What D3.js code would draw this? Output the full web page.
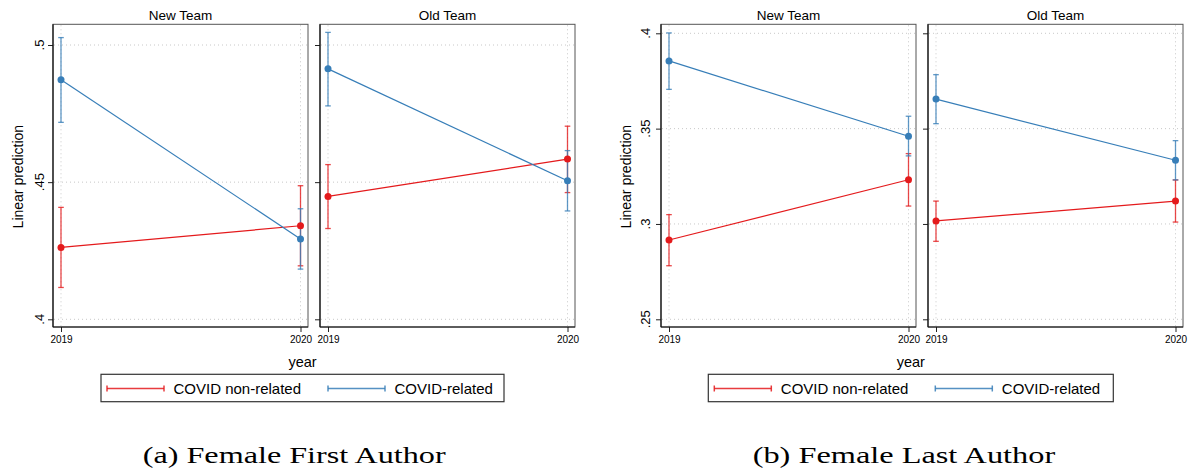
<!DOCTYPE html>
<html>
<head>
<meta charset="utf-8">
<script src="https://cdn.jsdelivr.net/npm/d3@7"></script>
<style>
  html, body { margin: 0; padding: 0; background: #fff; }
  svg { display: block; }
  text { font-family: "Liberation Sans", Arial, sans-serif; fill: #000; }
</style>
</head>
<body>
<svg id="chart" width="1193" height="473"></svg>
<script>
// ---------- data ----------
const years = [2019, 2020];
const panelNames = ["New Team", "Old Team"];
const seriesNames = ["COVID non-related", "COVID-related"];
const seriesColors = ["#e41a1c", "#377eb8"];

// rows: [estimate, lower CI, upper CI] for 2019 and 2020
// (a) Female First Author
const firstNewNon  = [[0.4262, 0.4116, 0.4408], [0.4341, 0.4195, 0.4487]];
const firstNewCov  = [[0.4873, 0.4718, 0.5027], [0.4293, 0.4183, 0.4403]];
const firstOldNon  = [[0.4448, 0.4331, 0.4564], [0.4584, 0.4462, 0.4704]];
const firstOldCov  = [[0.4913, 0.4778, 0.5046], [0.4505, 0.4395, 0.4615]];
const firstTicks   = [0.4, 0.45, 0.5];
const firstTickLabels = [".4", ".45", ".5"];

// (b) Female Last Author
const lastNewNon  = [[0.2916, 0.2781, 0.3049], [0.3232, 0.3094, 0.3369]];
const lastNewCov  = [[0.3855, 0.3706, 0.4002], [0.3460, 0.3357, 0.3565]];
const lastOldNon  = [[0.3016, 0.2909, 0.3120], [0.3120, 0.3010, 0.3231]];
const lastOldCov  = [[0.3655, 0.3526, 0.3783], [0.3334, 0.3231, 0.3437]];
const lastTicks   = [0.25, 0.3, 0.35, 0.4];
const lastTickLabels = [".25", ".3", ".35", ".4"];

const captions = ["(a) Female First Author", "(b) Female Last Author"];

// ---------- layout ----------
const svg = d3.select("#chart");
const charts = [
  {
    panels: [[firstNewNon, firstNewCov], [firstOldNon, firstOldCov]],
    ticks: firstTicks, tickLabels: firstTickLabels,
    yDomain: [0.4, 0.5], yRange: [319.3, 45],
    panelX: [[53, 308], [320, 575]],
    yLabelX: 17.5, tickLabelX: 39.5,
    centerX: 302.5,
    legend: { x0: 101, x1: 504 },
    caption: { x0: 142.7, w: 303 }
  },
  {
    panels: [[lastNewNon, lastNewCov], [lastOldNon, lastOldCov]],
    ticks: lastTicks, tickLabels: lastTickLabels,
    yDomain: [0.25, 0.4], yRange: [319.3, 33.3],
    panelX: [[661, 916], [928, 1183]],
    yLabelX: 626, tickLabelX: 645,
    centerX: 910.8,
    legend: { x0: 708.3, x1: 1113.3 },
    caption: { x0: 752.7, w: 302.5 }
  }
];

const plotTop = 24.3, plotBottom = 327;

charts.forEach((c, ci) => {
  const y = d3.scaleLinear().domain(c.yDomain).range(c.yRange);
  const g = svg.append("g");

  c.panels.forEach((panelSeries, pi) => {
    const [px0, px1] = c.panelX[pi];
    const x = d3.scaleLinear().domain([years[0], years[1]]).range([px0 + 8, px1 - 7.5]);
    const pg = g.append("g");

    // frame
    pg.append("rect")
      .attr("x", px0).attr("y", plotTop)
      .attr("width", px1 - px0).attr("height", plotBottom - plotTop)
      .attr("fill", "#fff").attr("stroke", "#555").attr("stroke-width", 1);

    // grid lines
    pg.selectAll(".hg").data(c.ticks).enter().append("line")
      .attr("x1", px0 + 1).attr("x2", px1 - 1)
      .attr("y1", d => y(d)).attr("y2", d => y(d))
      .attr("stroke", "#c8c8c8").attr("stroke-width", 1)
      .attr("stroke-dasharray", "1,3");
    pg.selectAll(".vg").data(years).enter().append("line")
      .attr("x1", d => x(d)).attr("x2", d => x(d))
      .attr("y1", plotTop + 1).attr("y2", plotBottom - 1)
      .attr("stroke", "#c8c8c8").attr("stroke-width", 1)
      .attr("stroke-dasharray", "1,3");

    // axes (left & bottom)
    const yAxis = d3.axisLeft(y).tickValues(c.ticks).tickSize(5).tickFormat("");
    const ya = pg.append("g").attr("transform", `translate(${px0},0)`).call(yAxis);
    ya.select(".domain").remove();
    ya.selectAll(".tick line").attr("stroke", "#222");
    pg.append("line").attr("x1", px0).attr("x2", px0)
      .attr("y1", plotTop).attr("y2", plotBottom)
      .attr("stroke", "#111").attr("stroke-width", 1.2);

    const xAxis = d3.axisBottom(x).tickValues(years).tickSize(5).tickFormat(d3.format("d"));
    const xa = pg.append("g").attr("transform", `translate(0,${plotBottom})`).call(xAxis);
    xa.select(".domain").remove();
    xa.selectAll(".tick line").attr("stroke", "#222");
    xa.selectAll(".tick text")
      .attr("y", 9).attr("dy", "0.71em")
      .style("font-family", '"Liberation Sans", Arial, sans-serif')
      .style("font-size", "10px").attr("fill", "#000");
    pg.append("line").attr("x1", px0).attr("x2", px1)
      .attr("y1", plotBottom).attr("y2", plotBottom)
      .attr("stroke", "#111").attr("stroke-width", 1.2);

    // y tick labels only on first panel
    if (pi === 0) {
      c.ticks.forEach((t, ti) => {
        pg.append("text")
          .attr("transform", `translate(${c.tickLabelX},${y(t)}) rotate(-90)`)
          .attr("text-anchor", "middle").attr("dominant-baseline", "central")
          .style("font-size", "13px")
          .text(c.tickLabels[ti]);
      });
    }

    // panel title
    pg.append("text")
      .attr("x", (px0 + px1) / 2).attr("y", 15)
      .attr("text-anchor", "middle").attr("dominant-baseline", "central")
      .style("font-size", "13.5px")
      .text(panelNames[pi]);

    // series
    panelSeries.forEach((rows, si) => {
      const col = seriesColors[si];
      const sg = pg.append("g");
      rows.forEach((r, yi) => {
        const xx = x(years[yi]);
        sg.append("line").attr("x1", xx).attr("x2", xx)
          .attr("y1", y(r[1])).attr("y2", y(r[2]))
          .attr("stroke", col).attr("stroke-opacity", 0.8).attr("stroke-width", 1.3);
        [r[1], r[2]].forEach(v => {
          sg.append("line").attr("x1", xx - 2.8).attr("x2", xx + 2.8)
            .attr("y1", y(v)).attr("y2", y(v))
            .attr("stroke", col).attr("stroke-opacity", 0.8).attr("stroke-width", 1.3);
        });
      });
    });
    panelSeries.forEach((rows, si) => {
      const col = seriesColors[si];
      const line = d3.line().x((r, i) => x(years[i])).y(r => y(r[0]));
      pg.append("path").datum(rows).attr("d", line)
        .attr("fill", "none").attr("stroke", col).attr("stroke-width", 1.2);
      pg.selectAll(null).data(rows).enter().append("circle")
        .attr("cx", (r, i) => x(years[i])).attr("cy", r => y(r[0]))
        .attr("r", 3.5).attr("fill", col);
    });
  });

  // y-axis title
  g.append("text")
    .attr("transform", `translate(${c.yLabelX},${(plotTop + plotBottom) / 2 + 1}) rotate(-90)`)
    .attr("text-anchor", "middle").attr("dominant-baseline", "central")
    .style("font-size", "14px")
    .text("Linear prediction");

  // x-axis title
  g.append("text")
    .attr("x", c.centerX).attr("y", 361.7)
    .attr("text-anchor", "middle").attr("dominant-baseline", "central")
    .style("font-size", "14.5px")
    .text("year");

  // legend
  const L = c.legend;
  const lg = g.append("g");
  lg.append("rect").attr("x", L.x0).attr("y", 374.3)
    .attr("width", L.x1 - L.x0).attr("height", 27.4)
    .attr("fill", "#fff").attr("stroke", "#333").attr("stroke-width", 1.2);
  const ly = 388.5;
  const symOff = [[6, 63], [227, 284]];
  const txtOff = [72.5, 293.5];
  seriesNames.forEach((name, si) => {
    const col = seriesColors[si];
    const a = L.x0 + symOff[si][0], b = L.x0 + symOff[si][1];
    lg.append("line").attr("x1", a).attr("x2", b).attr("y1", ly).attr("y2", ly)
      .attr("stroke", col).attr("stroke-opacity", 0.85).attr("stroke-width", 1.5);
    [a, b].forEach(e => lg.append("line").attr("x1", e).attr("x2", e)
      .attr("y1", ly - 3).attr("y2", ly + 3)
      .attr("stroke", col).attr("stroke-opacity", 0.85).attr("stroke-width", 1.5));
    lg.append("text").attr("x", L.x0 + txtOff[si]).attr("y", ly)
      .attr("dominant-baseline", "central")
      .style("font-size", "15px")
      .text(name);
  });

  // caption
  g.append("text")
    .attr("x", c.caption.x0).attr("y", 463)
    .attr("textLength", c.caption.w).attr("lengthAdjust", "spacingAndGlyphs")
    .style("font-family", '"Liberation Serif", "DejaVu Serif", serif')
    .style("font-size", "24px")
    .text(captions[ci]);
});
</script>
</body>
</html>
